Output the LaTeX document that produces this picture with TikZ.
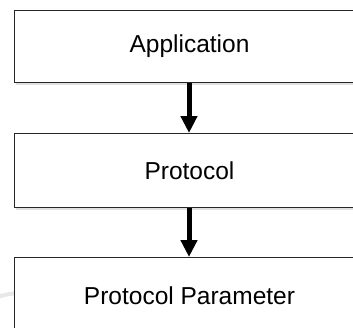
\documentclass[tikz,border=0pt]{standalone}
\usepackage{fontspec}
\setmainfont{Liberation Sans}
\usetikzlibrary{arrows.meta}
\begin{document}
\begin{tikzpicture}[x=1pt,y=-1pt,
  layer/.style={draw=black!85, line width=1pt, fill=white, minimum width=350pt,
    anchor=north west, inner sep=0pt, font=\fontsize{24.5}{28}\selectfont},
  flow/.style={line width=5pt, -{Triangle[width=16pt,length=17pt]}},
  shade/.style={black!12, line width=2.5pt}]
  \useasboundingbox (0,0) rectangle (353,327);
  % faint background arc
  \draw[black!9, line width=4pt] (-5,298) .. controls (30,284) and (80,300) .. (125,332);
  % box shadows
  \draw[shade] (16,84) -- (366,84);
  \draw[shade] (16,209) -- (366,209);
  % layers
  \node[layer, minimum height=72pt] (app) at (14,10) {Application};
  \node[layer, minimum height=74pt] (proto) at (14,133) {Protocol};
  \node[layer, minimum height=77pt] (param) at (14,257) {Protocol Parameter};
  % connectors
  \draw[flow] (app.south -| 189,0) -- (proto.north -| 189,0);
  \draw[flow] (proto.south -| 189,0) -- (param.north -| 189,0);
\end{tikzpicture}
\end{document}
